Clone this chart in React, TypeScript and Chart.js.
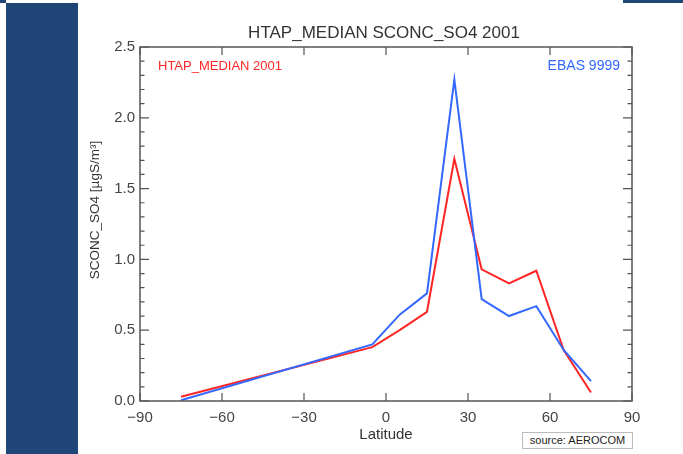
import React, { useEffect, useRef } from "react";
import { Chart, registerables } from "chart.js";

Chart.register(...registerables);

const latitudes = [-75, -5, 5, 15, 25, 35, 45, 55, 65, 75];
const htapMedian = [0.03, 0.38, 0.5, 0.63, 1.71, 0.93, 0.83, 0.92, 0.36, 0.06];
const ebas = [0.005, 0.4, 0.61, 0.76, 2.27, 0.72, 0.6, 0.67, 0.36, 0.14];

const xTicks = [-90, -60, -30, 0, 30, 60, 90];
const yTicks = [0, 0.5, 1.0, 1.5, 2.0, 2.5];

const titleText = "HTAP_MEDIAN SCONC_SO4 2001";
const xTitle = "Latitude";
const yTitle = "SCONC_SO4 [µgS/m³]";
const legendRed = "HTAP_MEDIAN 2001";
const legendBlue = "EBAS 9999";

const RED = "#ff2626";
const BLUE = "#3468ff";
const FONT = "'Liberation Sans', Arial, sans-serif";

const framePlugin = {
  id: "idlFrame",
  afterDraw(chart: any) {
    const { ctx, chartArea: a, scales } = chart;
    const xs = scales.x;
    const ys = scales.y;
    ctx.save();
    ctx.strokeStyle = "#555";
    ctx.lineWidth = 1.5;
    ctx.strokeRect(a.left, a.top, a.right - a.left, a.bottom - a.top);
    ctx.lineWidth = 1.2;
    ctx.beginPath();
    for (const v of xTicks) {
      const px = xs.getPixelForValue(v);
      ctx.moveTo(px, a.bottom);
      ctx.lineTo(px, a.bottom - 8);
      ctx.moveTo(px, a.top);
      ctx.lineTo(px, a.top + 8);
    }
    for (let i = 0; i <= 25; i++) {
      const v = i / 10;
      const py = ys.getPixelForValue(v);
      const len = i % 5 === 0 ? 9 : 4.5;
      ctx.moveTo(a.left, py);
      ctx.lineTo(a.left + len, py);
      ctx.moveTo(a.right, py);
      ctx.lineTo(a.right - len, py);
    }
    ctx.stroke();

    ctx.fillStyle = "#333";
    ctx.font = `17px ${FONT}`;
    ctx.textAlign = "center";
    ctx.textBaseline = "middle";
    ctx.fillText(titleText, (a.left + a.right) / 2 - 2, 33);

    ctx.font = `15px ${FONT}`;
    ctx.fillText(xTitle, (a.left + a.right) / 2, 435);

    ctx.save();
    ctx.translate(95, 210);
    ctx.rotate(-Math.PI / 2);
    ctx.font = `13.5px ${FONT}`;
    ctx.fillText(yTitle, 0, 0);
    ctx.restore();

    ctx.font = `13px ${FONT}`;
    ctx.textAlign = "left";
    ctx.fillStyle = RED;
    ctx.fillText(legendRed, a.left + 18, a.top + 19);
    ctx.textAlign = "right";
    ctx.fillStyle = BLUE;
    ctx.font = `14px ${FONT}`;
    ctx.fillText(legendBlue, a.right - 12, a.top + 19);
    ctx.restore();
  },
};

export default function App() {
  const ref = useRef<HTMLCanvasElement>(null);
  useEffect(() => {
    document.body.style.margin = "0";
    const canvas = ref.current!;
    const minus = (v: any) => String(v).replace("-", "\u2212");
    const chart = new Chart(canvas, {
      type: "scatter",
      data: {
        datasets: [
          {
            label: legendBlue,
            data: latitudes.map((x, i) => ({ x, y: ebas[i] })),
            showLine: true,
            borderColor: BLUE,
            borderWidth: 2,
            pointRadius: 0,
            fill: false,
          },
          {
            label: legendRed,
            data: latitudes.map((x, i) => ({ x, y: htapMedian[i] })),
            showLine: true,
            borderColor: RED,
            borderWidth: 2,
            pointRadius: 0,
            fill: false,
          },
        ],
      },
      options: {
        animation: false,
        responsive: false,
        layout: { padding: { left: 80, top: 47, right: 51, bottom: 0 } },
        plugins: { legend: { display: false }, tooltip: { enabled: false }, title: { display: false } },
        scales: {
          x: {
            type: "linear",
            min: -90,
            max: 90,
            afterBuildTicks: (s: any) => {
              s.ticks = xTicks.map((v) => ({ value: v }));
            },
            ticks: {
              callback: (v: any) => minus(v),
              color: "#444",
              font: { family: FONT, size: 15 },
              padding: 8,
              maxRotation: 0,
            },
            grid: { display: false, drawTicks: false },
            border: { display: false },
            afterFit: (s: any) => {
              s.height = 53;
            },
          },
          y: {
            type: "linear",
            min: 0,
            max: 2.5,
            afterBuildTicks: (s: any) => {
              s.ticks = yTicks.map((v) => ({ value: v }));
            },
            ticks: {
              callback: (v: any) => Number(v).toFixed(1),
              color: "#444",
              font: { family: FONT, size: 15 },
              padding: 5,
            },
            grid: { display: false, drawTicks: false },
            border: { display: false },
            afterFit: (s: any) => {
              s.width = 60;
            },
          },
        },
      },
      plugins: [framePlugin],
    });
    return () => chart.destroy();
  }, []);

  return (
    <div style={{ position: "absolute", left: 0, top: 0, width: 683, height: 454, background: "#fff", overflow: "hidden" }}>
      <div style={{ position: "absolute", left: 6, top: 3, width: 72, height: 451, background: "#1f4677" }} />
      <div style={{ position: "absolute", left: 0, top: 0, width: 6, height: 3, background: "#1f4677" }} />
      <div style={{ position: "absolute", left: 623, top: 0, width: 60, height: 3, background: "#1f4677" }} />
      <canvas ref={ref} width={683} height={454} style={{ position: "absolute", left: 0, top: 0, display: "block" }} />
      <div
        style={{
          position: "absolute",
          left: 522,
          top: 432,
          width: 109,
          height: 15,
          border: "1px solid #bbb",
          background: "#fff",
          fontFamily: FONT,
          fontSize: 11,
          lineHeight: "15px",
          textAlign: "center",
          color: "#222",
        }}
      >
        source: AEROCOM
      </div>
    </div>
  );
}
